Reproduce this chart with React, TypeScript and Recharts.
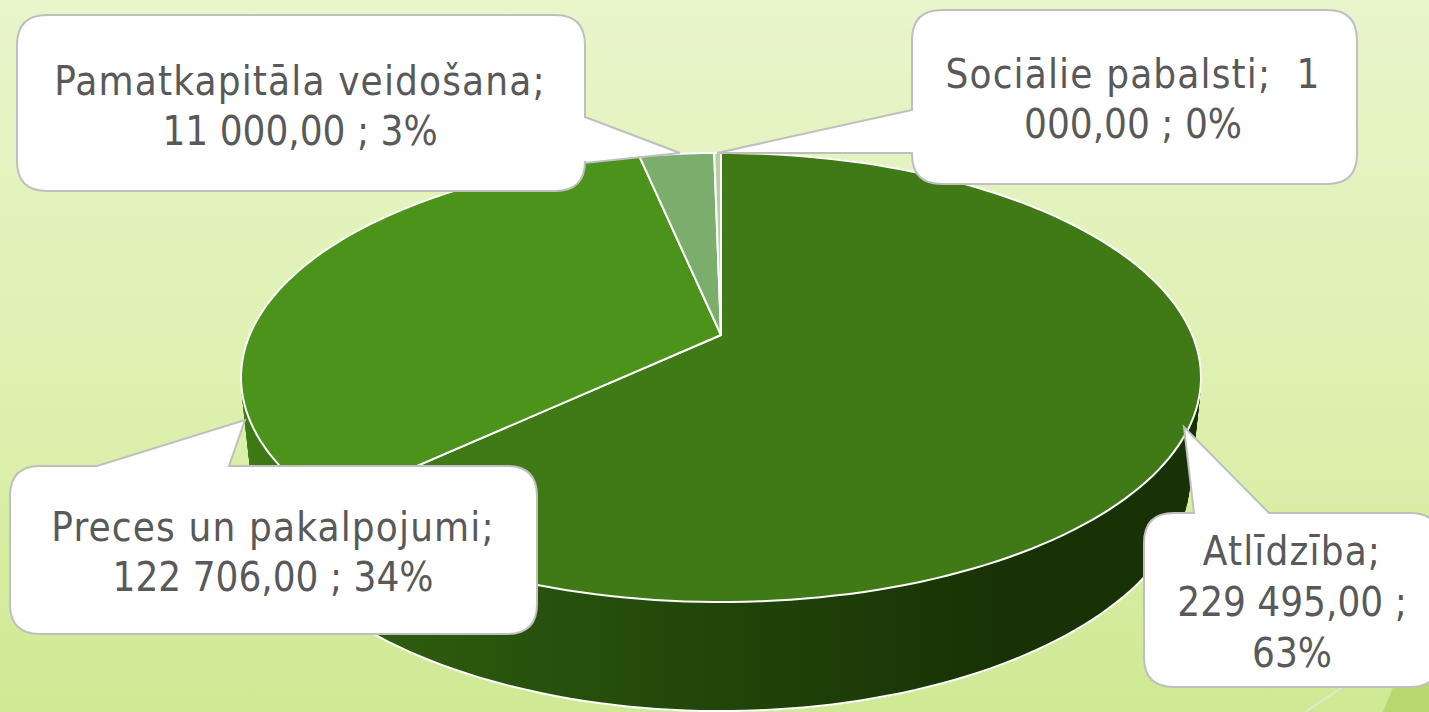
import React from 'react';
import { PieChart, Pie, Cell } from 'recharts';

const CATEGORIES = ['Atlīdzība', 'Preces un pakalpojumi', 'Pamatkapitāla veidošana', 'Sociālie pabalsti'];
const VALUES = [229495, 122706, 11000, 1000];
const LABEL_LINES = [
  ['Atlīdzība;', '229 495,00 ;', '63%'],
  ['Preces un pakalpojumi;', '122 706,00 ; 34%'],
  ['Pamatkapitāla veidošana;', '11 000,00 ; 3%'],
  ['Sociālie pabalsti;  1', '000,00 ; 0%'],
];
const TOP_COLORS = ['#407a17', '#4c931b', '#7bae6c', '#b5d0a6'];

const data = CATEGORIES.map((name, i) => ({ name, value: VALUES[i] }));

// callout boxes, tail points go clockwise round the box
type Pt = [number, number];
const CALLOUTS: { x: number; y: number; w: number; h: number; side: string; tail: Pt[]; cx: number; y0: number; lh: number }[] = [
  { x: 1144, y: 513, w: 296, h: 174, side: 'top', tail: [[1194, 513], [1184, 427], [1269, 513]], cx: 1292, y0: 565, lh: 51 },
  { x: 10, y: 466, w: 527, h: 168, side: 'top', tail: [[97, 466], [245, 420], [229, 466]], cx: 273, y0: 541, lh: 50 },
  { x: 17, y: 15, w: 568, h: 176, side: 'right', tail: [[585, 117], [680, 153], [585, 163]], cx: 300, y0: 95, lh: 50 },
  { x: 912, y: 10, w: 445, h: 174, side: 'left', tail: [[912, 153], [717, 153], [912, 110]], cx: 1133, y0: 88, lh: 50 },
];

// perspective of the pie disc
const TILT = 0.1893;
const RX_RATIO = 2.177;
const ELLIPSE_CY = 377.5;
const BOTTOM_CY = 476;
const BOTTOM_SCALE_X = 0.977;
const BOTTOM_SCALE_Y = 1.047;

function project(cx: number, cy: number, r: number, deg: number): Pt {
  const a = (deg * Math.PI) / 180;
  const w = 1 + TILT * Math.sin(a);
  return [cx + (r * RX_RATIO * Math.cos(a)) / w, cy - (r * Math.sin(a)) / w];
}

function arcAngles(from: number, to: number) {
  const n = Math.max(2, Math.ceil(Math.abs(to - from) / 1.5));
  const out: number[] = [];
  for (let i = 0; i <= n; i++) out.push(from + ((to - from) * i) / n);
  return out;
}

const toPath = (pts: Pt[], close = true) =>
  'M' + pts.map((p) => p[0].toFixed(1) + ' ' + p[1].toFixed(1)).join('L') + (close ? 'Z' : '');

// all quads wound the same way, otherwise overlapping ones cancel out under nonzero fill
function quadPath(q: Pt[]) {
  let area = 0;
  q.forEach((p, i) => {
    const n = q[(i + 1) % q.length];
    area += p[0] * n[1] - n[0] * p[1];
  });
  return toPath(area < 0 ? [...q].reverse() : q);
}

function TopSlice(props: any) {
  const { cx, cy, outerRadius, startAngle, endAngle, fill } = props;
  const pts: Pt[] = [[cx, cy], ...arcAngles(startAngle, endAngle).map((a) => project(cx, cy, outerRadius, a))];
  return <path d={toPath(pts)} fill={fill} stroke="#fff" strokeWidth={2} strokeLinejoin="round" />;
}

function WallSlice(props: any) {
  const { cx, cy, outerRadius, startAngle, endAngle, fill } = props;
  const angles = arcAngles(startAngle, endAngle);
  const top = angles.map((a) => project(cx, cy, outerRadius, a));
  const bottom = top.map((p): Pt => [cx + BOTTOM_SCALE_X * (p[0] - cx), BOTTOM_CY + BOTTOM_SCALE_Y * (p[1] - ELLIPSE_CY)]);
  const quads = top.slice(1).map((p, i) => quadPath([top[i], p, bottom[i + 1], bottom[i]])).join('');
  // white edge only along the front, its ends stay behind the callouts
  const front = bottom.filter((_, i) => Math.sin((angles[i] * Math.PI) / 180) < -0.5);
  return (
    <g>
      <path d={quads} fill={fill} stroke={fill} strokeWidth={1} />
      {front.length > 1 && <path d={toPath(front, false)} fill="none" stroke="#fff" strokeWidth={2} />}
    </g>
  );
}

function calloutPath(c: (typeof CALLOUTS)[number]) {
  const r = 30;
  const { x, y, w, h, side, tail } = c;
  const t = (s: string) => (side === s ? tail.map((p) => `L${p[0]} ${p[1]}`).join('') : '');
  return (
    `M${x + r} ${y}` + t('top') + `L${x + w - r} ${y}Q${x + w} ${y} ${x + w} ${y + r}` +
    t('right') + `L${x + w} ${y + h - r}Q${x + w} ${y + h} ${x + w - r} ${y + h}` +
    `L${x + r} ${y + h}Q${x} ${y + h} ${x} ${y + h - r}` +
    t('left') + `L${x} ${y + r}Q${x} ${y} ${x + r} ${y}Z`
  );
}

function Callout(props: any) {
  const i = props.index;
  const c = CALLOUTS[i];
  return (
    <g>
      <path d={calloutPath(c)} fill="#fff" stroke="#bfbfbf" strokeWidth={2} />
      {LABEL_LINES[i].map((line, j) => (
        <text key={j} x={c.cx} y={c.y0 + j * c.lh} textAnchor="middle" fill="#595959"
          fontFamily="'DejaVu Sans Condensed', 'DejaVu Sans'" fontStretch="condensed" fontSize={40}
          letterSpacing={j === 0 ? 1.15 : 0} xmlSpace="preserve">
          {line}
        </text>
      ))}
    </g>
  );
}

export default function App() {
  return (
    <div style={{ position: 'fixed', left: 0, top: 0, width: 1429, height: 712, overflow: 'hidden',
      background: 'linear-gradient(180deg, #e9f5cb 0%, #dcf0ad 60%, #cfe994 100%)' }}>
      <svg width={1429} height={712} style={{ position: 'absolute', left: 0, top: 0 }}>
        <polygon points="1383,712 1429,600 1429,712" fill="#b9d86f" />
        <line x1={1305} y1={712} x2={1429} y2={630} stroke="#dfe8cf" strokeWidth={2} />
      </svg>
      <div style={{ position: 'absolute', left: 0, top: 0 }}>
        <PieChart width={1429} height={712} margin={{ top: 0, right: 0, bottom: 0, left: 0 }}>
          <defs>
            <linearGradient id="wall0" gradientUnits="userSpaceOnUse" x1={330} y1={0} x2={1000} y2={0}>
              <stop offset="0%" stopColor="#2f6010" />
              <stop offset="100%" stopColor="#183205" />
            </linearGradient>
            <linearGradient id="wall1" gradientUnits="userSpaceOnUse" x1={240} y1={0} x2={340} y2={0}>
              <stop offset="0%" stopColor="#3e7c15" />
              <stop offset="100%" stopColor="#356b12" />
            </linearGradient>
          </defs>
          <Pie data={data} dataKey="value" cx={721} cy={335} outerRadius={216.5} startAngle={90} endAngle={-270}
            shape={WallSlice} isAnimationActive={false} stroke="none">
            {data.map((d, i) => (
              <Cell key={d.name} fill={i < 2 ? `url(#wall${i})` : TOP_COLORS[i]} />
            ))}
          </Pie>
          <Pie data={data} dataKey="value" cx={721} cy={335} outerRadius={216.5} startAngle={90} endAngle={-270}
            shape={TopSlice} label={Callout} labelLine={false} isAnimationActive={false} stroke="none">
            {data.map((d, i) => (
              <Cell key={d.name} fill={TOP_COLORS[i]} />
            ))}
          </Pie>
        </PieChart>
      </div>
    </div>
  );
}
